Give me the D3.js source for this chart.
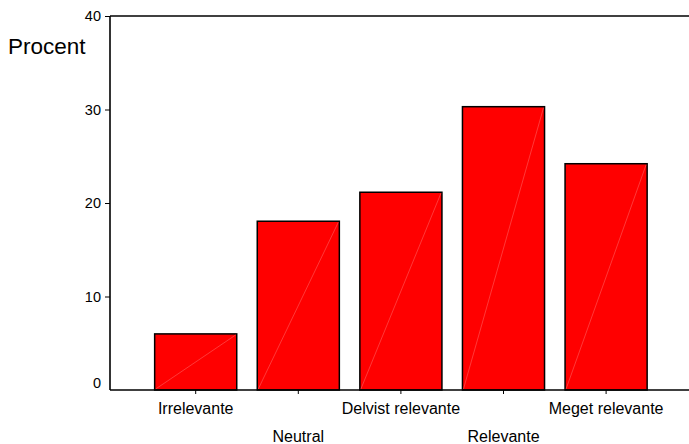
<!DOCTYPE html>
<html>
<head>
<meta charset="utf-8">
<script src="https://cdn.jsdelivr.net/npm/d3@7"></script>
<style>
    body { margin: 0; background: #fff; }
    text { font-family: "Liberation Sans", Arial, sans-serif; }
</style>
</head>
<body>
<div id="chart"></div>
<script>
// data
const categories = ["Irrelevante", "Neutral", "Delvist relevante", "Relevante", "Meget relevante"];
const percent = [6.0, 18.05, 21.15, 30.3, 24.2];
const yTicks = [0, 10, 20, 30, 40];
const yLabel = "Procent";

const W = 689, H = 444;
const plotLeft = 110, plotRight = 689, plotTop = 16, plotBottom = 390;

const svg = d3.select("#chart")
    .append("svg")
    .attr("width", W)
    .attr("height", H);

const x = d3.scaleBand()
    .domain(categories)
    .range([144.4, 657.4])
    .paddingInner(0.2)
    .paddingOuter(0.1);

const y = d3.scaleLinear()
    .domain([0, 40])
    .range([plotBottom, plotTop]);

// bars
const bars = svg.append("g");
bars.selectAll("rect")
    .data(categories)
    .join("rect")
    .attr("x", d => x(d))
    .attr("y", (d, i) => y(percent[i]))
    .attr("width", x.bandwidth())
    .attr("height", (d, i) => y(0) - y(percent[i]))
    .attr("fill", "#ff0000")
    .attr("stroke", "#000")
    .attr("stroke-width", 1.5);

// faint diagonal inside each bar
bars.selectAll("line")
    .data(categories)
    .join("line")
    .attr("x1", d => x(d) + 1)
    .attr("y1", y(0) - 1)
    .attr("x2", d => x(d) + x.bandwidth() - 1)
    .attr("y2", (d, i) => y(percent[i]) + 1)
    .attr("stroke", "#ff7070")
    .attr("stroke-width", 0.5);

// y axis
const yAxis = d3.axisLeft(y)
    .tickValues(yTicks)
    .tickSize(5)
    .tickPadding(4);
const gy = svg.append("g")
    .attr("transform", `translate(${plotLeft},0)`)
    .call(yAxis);
gy.select(".domain").remove();
gy.selectAll("text")
    .attr("font-size", 14.5)
    .attr("fill", "#000")
    .attr("dy", d => d === 0 ? "-0.18em" : "0.32em");
gy.selectAll(".tick line").attr("stroke-width", 1);
gy.selectAll(".tick").filter(d => d === 0).select("line").remove();

// x axis, labels staggered on two rows
const xAxis = d3.axisBottom(x)
    .tickSize(4)
    .tickPadding(4);
const gx = svg.append("g")
    .attr("transform", `translate(0,${plotBottom})`)
    .call(xAxis);
gx.select(".domain").remove();
gx.selectAll("text")
    .attr("font-size", 16)
    .attr("fill", "#000")
    .attr("dy", 0)
    .attr("y", (d, i) => i % 2 === 0 ? 24 : 52);

// frame lines
const frame = svg.append("g")
    .attr("stroke", "#000")
    .attr("stroke-width", 1.6)
    .attr("fill", "none");
frame.append("line").attr("x1", plotLeft).attr("x2", plotRight).attr("y1", y(40)).attr("y2", y(40));
frame.append("line").attr("x1", plotLeft).attr("x2", plotRight).attr("y1", y(0)).attr("y2", y(0));
frame.append("line").attr("x1", plotLeft).attr("x2", plotLeft).attr("y1", y(40)).attr("y2", y(0));

// y label
svg.append("text")
    .attr("x", 8)
    .attr("y", 54)
    .attr("font-size", 22.5)
    .attr("fill", "#000")
    .text(yLabel);
</script>
</body>
</html>
